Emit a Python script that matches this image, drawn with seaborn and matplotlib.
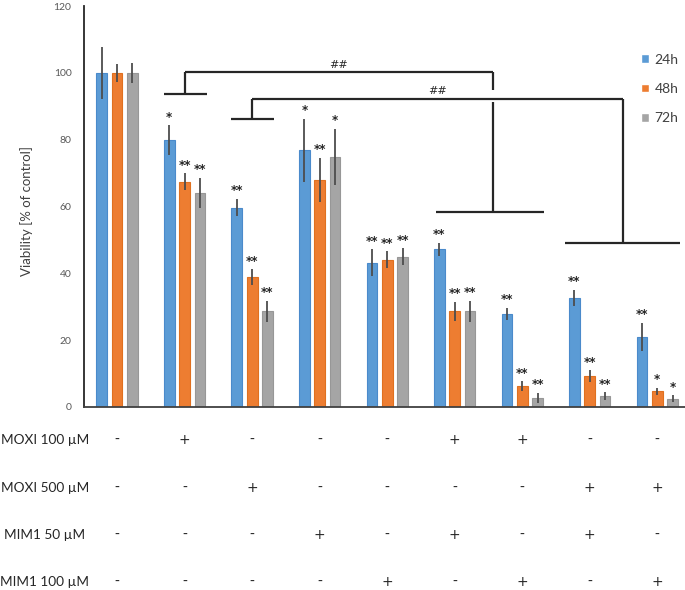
"""Cell viability after MOXI / MIM1 treatment (24h, 48h, 72h)
"""

import numpy as np
import pandas as pd
import matplotlib
matplotlib.use("Agg")
import matplotlib.pyplot as plt
import seaborn as sns

# Data
groups = ["1", "2", "3", "4", "5", "6", "7", "8", "9"]
times = ["24h", "48h", "72h"]
v24 = [100, 79.8, 59.7, 76.8, 43.2, 47.2, 27.9, 32.6, 21.0]
v48 = [100, 67.4, 38.8, 68.0, 44.1, 28.6, 6.2, 9.2, 4.7]
v72 = [100, 64.0, 28.6, 74.9, 45.0, 28.6, 2.7, 3.3, 2.5]
e24 = [7.8, 4.5, 2.6, 9.4, 4.0, 2.0, 1.8, 2.4, 4.2]
e48 = [2.7, 2.5, 2.4, 6.6, 2.5, 2.8, 1.5, 1.8, 1.0]
e72 = [3.0, 4.5, 3.1, 8.4, 2.5, 3.2, 1.5, 1.1, 1.0]
s24 = ["", "*", "**", "*", "**", "**", "**", "**", "**"]
s48 = ["", "**", "**", "**", "**", "**", "**", "**", "*"]
s72 = ["", "**", "**", "*", "**", "**", "**", "**", "*"]

row_labels = ["MOXI 100 µM", "MOXI 500 µM", "MIM1 50 µM", "MIM1 100 µM"]
moxi100 = ["-", "+", "-", "-", "-", "+", "+", "-", "-"]
moxi500 = ["-", "-", "+", "-", "-", "-", "-", "+", "+"]
mim50 = ["-", "-", "-", "+", "-", "+", "-", "+", "-"]
mim100 = ["-", "-", "-", "-", "+", "-", "+", "-", "+"]

colors = ["#5B9BD5", "#ED7D31", "#A5A5A5"]
edges = ["#4A8ACB", "#E0701F", "#979797"]

df = pd.DataFrame({
    "group": groups * 3,
    "time": [t for t in times for _ in groups],
    "value": v24 + v48 + v72,
})

sns.set_style("white")
plt.rcParams["font.family"] = ["Lato", "DejaVu Sans"]

fig = plt.figure(figsize=(6.85, 5.9), dpi=100)
ax = fig.add_axes([84 / 685, 183 / 590, 601 / 685, 401 / 590])

sns.barplot(data=df, x="group", y="value", hue="time", hue_order=times,
            palette=colors, saturation=1, width=0.68, gap=0.3,
            errorbar=None, ax=ax, legend=True)

errs = [e24, e48, e72]
stars = [s24, s48, s72]
bar_sets = list(ax.containers)
for k, cont in enumerate(bar_sets):
    for i, bar in enumerate(cont):
        bar.set_edgecolor(edges[k])
        bar.set_linewidth(0.8)
        xc = bar.get_x() + bar.get_width() / 2
        h = bar.get_height()
        ax.errorbar(xc, h, yerr=errs[k][i], fmt="none", ecolor="#4d4d4d",
                    elinewidth=1.3, capsize=0, zorder=5)
        if stars[k][i]:
            ax.text(xc, h + errs[k][i] + 0.5, stars[k][i], ha="center",
                    va="bottom", fontsize=8.5, fontweight="bold",
                    color="#262626", family="DejaVu Sans")

ax.set_xlim(-0.49, 8.41)
ax.set_ylim(0, 120)
ax.set_yticks(range(0, 121, 20))
ax.tick_params(axis="y", length=0, pad=9, labelsize=7.5, labelcolor="#595959")
ax.set_xticks([])
ax.set_xlabel("")
ax.set_ylabel("Viability [% of control]", fontsize=9.5, color="#404040")
ax.yaxis.set_label_coords(-0.085, 0.49)
for side in ["top", "right"]:
    ax.spines[side].set_visible(False)
ax.spines["left"].set_color("#262626")
ax.spines["left"].set_linewidth(1.3)
ax.spines["bottom"].set_color("#404040")
ax.spines["bottom"].set_linewidth(1.3)

# significance brackets (##)
lk = dict(color="#262626", lw=1.6, clip_on=False, solid_capstyle="butt")
# bracket 1: group 2 vs groups 6-7
ax.plot([0.70, 1.33], [93.6, 93.6], **lk)
ax.plot([1.0, 1.0], [93.6, 100.2], **lk)
ax.plot([1.0, 5.56], [100.2, 100.2], **lk)
ax.plot([5.56, 5.56], [100.2, 95.0], **lk)
ax.plot([5.56, 5.56], [91.2, 58.5], **lk)
ax.plot([4.72, 6.32], [58.5, 58.5], **lk)
ax.text(3.28, 100.9, "##", ha="center", va="bottom", fontsize=8,
        color="#262626", family="DejaVu Sans")
# bracket 2: group 3 vs groups 8-9
ax.plot([1.69, 2.33], [86.3, 86.3], **lk)
ax.plot([2.0, 2.0], [86.3, 92.3], **lk)
ax.plot([2.0, 7.49], [92.3, 92.3], **lk)
ax.plot([7.49, 7.49], [92.3, 49.2], **lk)
ax.plot([6.64, 8.34], [49.2, 49.2], **lk)
ax.text(4.74, 93.0, "##", ha="center", va="bottom", fontsize=8,
        color="#262626", family="DejaVu Sans")

# legend
leg = ax.legend(loc="upper left", bbox_to_anchor=(635 / 685, 1 - 48 / 590),
                bbox_transform=fig.transFigure, frameon=False, fontsize=10,
                handlelength=0.6, handleheight=0.6, handletextpad=0.4,
                labelspacing=1.25, borderaxespad=0)
for t in leg.get_texts():
    t.set_color("#404040")

# treatment table under the axis
rows = [moxi100, moxi500, mim50, mim100]
row_y = [440, 488, 535, 582]
for lab, vals, yp in zip(row_labels, rows, row_y):
    yf = 1 - yp / 590
    fig.text(45 / 685, yf, lab, ha="center", va="center", fontsize=9.8,
             color="#262626")
    for i, s in enumerate(vals):
        xf = (117 + 67.5 * i) / 685
        fig.text(xf, yf, s, ha="center", va="center", fontsize=10,
                 color="#262626", family="DejaVu Sans")

plt.savefig("out.png", dpi=100)
